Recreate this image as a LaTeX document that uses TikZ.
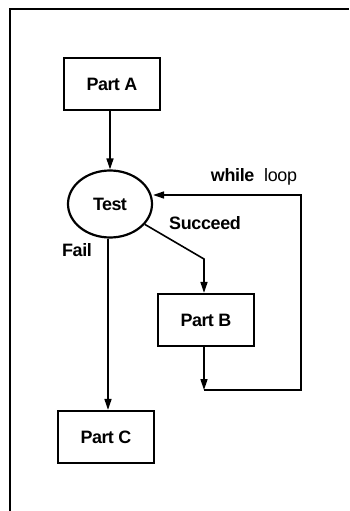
\documentclass[tikz,border=0pt]{standalone}
\usepackage{fontspec}
\setmainfont{Liberation Sans}
\usetikzlibrary{arrows.meta,shapes.geometric}
\begin{document}
\begin{tikzpicture}[x=1bp,y=-1bp,
  part/.style={draw,line width=2.2bp,minimum width=96bp,minimum height=52bp,inner sep=0pt,
    font=\fontsize{18}{21}\selectfont\bfseries\addfontfeature{LetterSpace=-3}},
  decide/.style={draw,ellipse,line width=2.2bp,minimum width=84bp,minimum height=67bp,inner sep=0pt,
    font=\fontsize{18}{21}\selectfont\bfseries\addfontfeature{LetterSpace=-3}},
  flow/.style={line width=1.6bp,-{Triangle[length=11bp,width=7bp]}},
  lbl/.style={font=\fontsize{18}{21}\selectfont\bfseries\addfontfeature{LetterSpace=-2},inner sep=0pt}]
\useasboundingbox (0,0) rectangle (349,511);
% partial frame: top and left edges
\draw[line width=1.5bp] (10,511) -- (10,9) -- (349,9);

\node[part]   (A) at (112,84)  {Part A};
\node[decide] (T) at (110,204) {Test};
\node[part]   (B) at (206,320) {Part B};
\node[part]   (C) at (106,437) {Part C};

\coordinate (bend) at (204,259);
\coordinate (low)  at (204,390);
\coordinate (far)  at (301,390);
\coordinate (top)  at (301,195);

\draw[flow] (A.south -| 110,0) -- (T.north);
\draw[flow] (T.south -| 108,0) -- (C.north -| 108,0);
\draw[flow] (T) -- (bend) -- (B.north -| bend);
\draw[flow] (B.south -| bend) -- (low);
\draw[flow] (low) -- (far) -- (top) -- (T.east |- top);

\node[lbl] (fail) at (77,250) {Fail};
\node[lbl] (succ) at (205,223) {Succeed};
\node[lbl] (loop) at (254,177) {while\hspace{0.55em}\mdseries loop};
\end{tikzpicture}
\end{document}
